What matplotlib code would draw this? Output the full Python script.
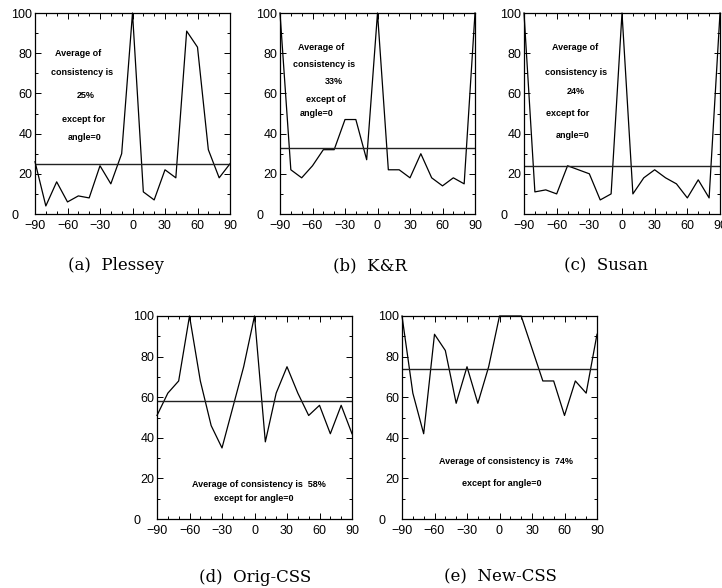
import matplotlib.pyplot as plt
import matplotlib.transforms as mtransforms
from matplotlib.ticker import MultipleLocator

angles = list(range(-90, 91, 10))

plessey = [26, 4, 16, 6, 9, 8, 24, 15, 30, 100, 11, 7, 22, 18, 91, 83, 32, 18, 25]
kr = [100, 22, 18, 24, 32, 32, 47, 47, 27, 100, 22, 22, 18, 30, 18, 14, 18, 15, 100]
susan = [100, 11, 12, 10, 24, 22, 20, 7, 10, 100, 10, 18, 22, 18, 15, 8, 17, 8, 100]
orig_css = [51, 62, 68, 100, 68, 46, 35, 55, 75, 100, 38, 62, 75, 62, 51, 56, 42, 56, 42]
new_css = [100, 62, 42, 91, 83, 57, 75, 57, 75, 100, 100, 100, 84, 68, 68, 51, 68, 62, 91]

averages = [25, 33, 24, 58, 74]
captions = ["(a)  Plessey", "(b)  K&R", "(c)  Susan", "(d)  Orig-CSS", "(e)  New-CSS"]

# annotation lines: (text, x, y)
notes = [
    [("Average of", -50, 80), ("consistency is", -47, 70.5), ("25%", -43, 59),
     ("except for", -45, 47), ("angle=0", -44, 38)],
    [("Average of", -52, 83), ("consistency is", -49, 74.5), ("33%", -40, 66),
     ("except of", -48, 57), ("angle=0", -56, 50)],
    [("Average of", -43, 83), ("consistency is", -42, 70.5), ("24%", -42, 61),
     ("except for", -50, 50), ("angle=0", -45, 39)],
    [("Average of consistency is  58%", 4, 17), ("except for angle=0", -1, 10)],
    [("Average of consistency is  74%", 6, 28.5), ("except for angle=0", 2, 17.5)],
]

W, H = 722, 588
# axes boxes in pixels: left, right, top, bottom
boxes = [(35, 230, 13, 214), (280, 475, 13, 214), (524, 720, 13, 214),
         (157, 352, 316, 519), (402, 597, 316, 519)]
caption_pos = [(116, 266), (370, 266), (606, 266), (255, 577), (500, 577)]

fig = plt.figure(figsize=(W / 100, H / 100), dpi=100)
series = [plessey, kr, susan, orig_css, new_css]

for i, vals in enumerate(series):
    l, r, t, b = boxes[i]
    ax = fig.add_axes([l / W, 1 - b / H, (r - l) / W, (b - t) / H])
    ax.plot(angles, vals, color="black", lw=0.9, clip_on=False)
    ax.axhline(averages[i], color="#222222", lw=1.0)
    ax.set_xlim(-90, 90)
    ax.set_ylim(0, 100)
    ax.xaxis.set_major_locator(MultipleLocator(30))
    ax.xaxis.set_minor_locator(MultipleLocator(10))
    ax.yaxis.set_major_locator(MultipleLocator(20))
    ax.yaxis.set_minor_locator(MultipleLocator(10))
    ax.tick_params(which="both", direction="in", top=True, right=True,
                   labelsize=9, width=0.7)
    ax.tick_params(axis="x", pad=4)
    ax.tick_params(axis="y", pad=2)
    ax.tick_params(which="major", length=4)
    ax.tick_params(which="minor", length=2)
    for lab in ax.get_xticklabels() + ax.get_yticklabels():
        lab.set_family("Liberation Sans")
    # the "0" label sits further left, clear of "-90"
    shift = mtransforms.ScaledTranslation(-10 / 72, 0, fig.dpi_scale_trans)
    for tk in ax.yaxis.get_major_ticks():
        if tk.get_loc() == 0:
            tk.label1.set_transform(tk.label1.get_transform() + shift)
    for sp in ax.spines.values():
        sp.set_linewidth(0.9)
    for txt, x, y in notes[i]:
        ax.text(x, y, txt, ha="center", va="center", fontsize=6.5,
                fontweight="bold", family="Liberation Sans")
    cx, cy = caption_pos[i]
    fig.text(cx / W, 1 - cy / H, captions[i], ha="center", va="center",
             fontsize=12, family="DejaVu Serif")

fig.savefig("out.png", dpi=100)
